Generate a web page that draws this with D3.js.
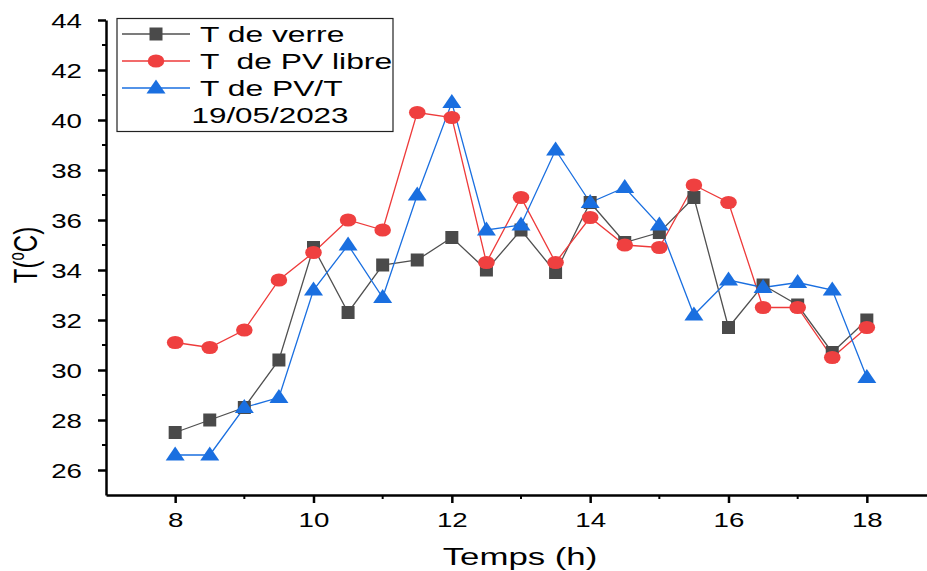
<!DOCTYPE html>
<html>
<head>
<meta charset="utf-8">
<script src="https://cdn.jsdelivr.net/npm/d3@7/dist/d3.min.js"></script>
<style>
  html, body { margin: 0; padding: 0; background: #fff; }
  svg { display: block; font-family: "Liberation Sans", Arial, sans-serif; }
</style>
</head>
<body>
<svg id="chart" width="927" height="571"></svg>
<script>
// Hours of measurement
const hours = [8, 8.5, 9, 9.5, 10, 10.5, 11, 11.5, 12, 12.5, 13, 13.5, 14, 14.5, 15, 15.5, 16, 16.5, 17, 17.5, 18];

// Temperatures (°C)
const tVerre = [27.5, 28.0, 28.5, 30.4, 34.9, 32.3, 34.2, 34.4, 35.3, 34.0, 35.6, 33.9, 36.7, 35.1, 35.5, 36.9, 31.7, 33.4, 32.6, 30.7, 32.0];
const tPvLibre = [31.1, 30.9, 31.6, 33.6, 34.7, 36.0, 35.6, 40.3, 40.1, 34.3, 36.9, 34.3, 36.1, 35.0, 34.9, 37.4, 36.7, 32.5, 32.5, 30.5, 31.7];
const tPvt = [26.6, 26.6, 28.5, 28.9, 33.2, 35.0, 32.9, 37.0, 40.7, 35.6, 35.8, 38.8, 36.7, 37.3, 35.8, 32.2, 33.6, 33.3, 33.5, 33.2, 29.7];

const xTicks = [8, 10, 12, 14, 16, 18];
const yTicks = [26, 28, 30, 32, 34, 36, 38, 40, 42, 44];

const seriesNames = ["T de verre", "T  de PV libre", "T de PV/T"];
const legendDate = "19/05/2023";

// Text is drawn horizontally widened, like the rest of the figure
const WIDEN = 1.42;

const svg = d3.select("#chart");

const x = d3.scaleLinear().domain([7, 19]).range([106, 936]);
const y = d3.scaleLinear().domain([25, 44]).range([495, 20]);

// Axes
const xAxis = d3.axisBottom(x).tickValues(xTicks).tickFormat(d3.format("d")).tickSize(8).tickSizeOuter(0);
const gx = svg.append("g").attr("transform", `translate(0,${y(25)})`).call(xAxis);
// minor ticks
svg.append("g").selectAll("line").data(d3.range(9, 19, 2)).join("line")
  .attr("x1", d => x(d)).attr("x2", d => x(d))
  .attr("y1", y(25)).attr("y2", y(25) + 4)
  .attr("stroke", "#000").attr("stroke-width", 2);

const yAxis = d3.axisLeft(y).tickValues(yTicks).tickFormat(d3.format("d")).tickSize(8).tickSizeOuter(0);
const gy = svg.append("g").attr("transform", `translate(${x(7)},0)`).call(yAxis);
svg.append("g").selectAll("line").data(d3.range(27, 44, 2)).join("line")
  .attr("x1", x(7)).attr("x2", x(7) - 4)
  .attr("y1", d => y(d)).attr("y2", d => y(d))
  .attr("stroke", "#000").attr("stroke-width", 2);

[gx, gy].forEach(g => {
  g.select(".domain").attr("stroke", "#000").attr("stroke-width", 2.5);
  g.selectAll(".tick line").attr("stroke", "#000").attr("stroke-width", 2.5);
  g.selectAll(".tick text").attr("fill", "#000").attr("font-size", 19.5)
    .attr("font-family", "'Liberation Sans', Arial, sans-serif");
});
gx.selectAll(".tick text").attr("x", null).attr("y", null).attr("dy", null)
  .attr("transform", `translate(0,32) scale(${WIDEN},1)`);
gy.selectAll(".tick text").attr("x", null).attr("dy", "0.36em")
  .attr("transform", `translate(-24,0) scale(${WIDEN},1)`);

// Axis titles
svg.append("text").attr("transform", `translate(520,565) scale(${WIDEN},1)`)
  .attr("text-anchor", "middle").attr("font-size", 24.5).attr("fill", "#000").text("Temps (h)");
const yl = svg.append("text").attr("transform", `translate(37,255) scale(${WIDEN},1) rotate(-90)`)
  .attr("text-anchor", "middle").attr("font-size", 24).attr("fill", "#000");
yl.append("tspan").text("T(");
yl.append("tspan").attr("font-size", 15).attr("dy", -9).text("o");
yl.append("tspan").attr("dy", 9).text("C)");

// Series
const series = [
  { name: seriesNames[0], values: tVerre, line: "#505050", fill: "#4a4a4a", shape: "square" },
  { name: seriesNames[1], values: tPvLibre, line: "#ee3a3a", fill: "#ef4040", shape: "circle" },
  { name: seriesNames[2], values: tPvt, line: "#1a6fe0", fill: "#1a6fe0", shape: "triangle" }
];

function drawMarker(g, shape, fill) {
  if (shape === "square") {
    g.append("rect").attr("x", -6.5).attr("y", -6.5).attr("width", 13).attr("height", 13).attr("fill", fill);
  } else if (shape === "circle") {
    g.append("ellipse").attr("rx", 8.3).attr("ry", 6.6).attr("fill", fill);
  } else {
    g.append("path").attr("d", "M0,-8.5L9.5,5.5L-9.5,5.5Z").attr("fill", fill);
  }
}

const line = d3.line().x((d, i) => x(hours[i])).y(d => y(d));

series.forEach(s => {
  svg.append("path").datum(s.values).attr("d", line)
    .attr("fill", "none").attr("stroke", s.line).attr("stroke-width", 1.3);
});
series.forEach(s => {
  s.values.forEach((v, i) => {
    const g = svg.append("g").attr("transform", `translate(${x(hours[i])},${y(v)})`);
    drawMarker(g, s.shape, s.fill);
  });
});

// Legend
const lg = svg.append("g");
lg.append("rect").attr("x", 117).attr("y", 18.5).attr("width", 276).attr("height", 113)
  .attr("fill", "#fff").attr("stroke", "#222").attr("stroke-width", 1.2);
series.forEach((s, i) => {
  const cy = 34 + i * 27;
  lg.append("line").attr("x1", 122).attr("x2", 190).attr("y1", cy).attr("y2", cy)
    .attr("stroke", s.line).attr("stroke-width", 1.3);
  const m = lg.append("g").attr("transform", `translate(156,${cy})`);
  drawMarker(m, s.shape, s.fill);
  lg.append("text").attr("transform", `translate(200,${cy + 8}) scale(1.46,1)`)
    .attr("font-size", 21.8).attr("fill", "#000")
    .attr("xml:space", "preserve").style("white-space", "pre").text(s.name);
});
lg.append("text").attr("transform", `translate(270,123) scale(1.46,1)`).attr("text-anchor", "middle")
  .attr("font-size", 21.5).attr("fill", "#000").text(legendDate);
</script>
</body>
</html>
